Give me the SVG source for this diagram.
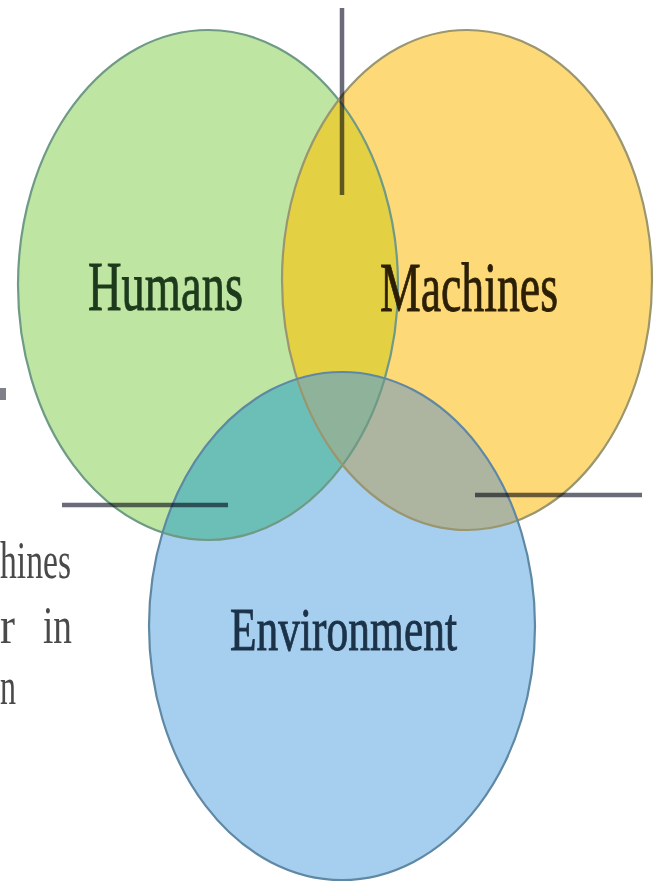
<svg xmlns="http://www.w3.org/2000/svg" width="656" height="884" viewBox="0 0 656 884">
<style>
.lbl{font-family:"Liberation Serif","Times New Roman",serif;stroke-width:0.9;}
.side{font-family:"Liberation Serif","Times New Roman",serif;font-size:52px;fill:#4a4a4a;}
.edge{fill:none;stroke-width:2.2;}
.conn{stroke:#6a6a78;stroke-width:4.5;mix-blend-mode:multiply;}
</style>
<defs>
<ellipse id="eH" cx="208" cy="285" rx="190" ry="255"/>
<ellipse id="eM" cx="467" cy="280" rx="185" ry="250"/>
<ellipse id="eE" cx="342" cy="626" rx="193" ry="254"/>
<clipPath id="cH"><use href="#eH"/></clipPath>
<clipPath id="cM"><use href="#eM"/></clipPath>
<clipPath id="cE"><use href="#eE"/></clipPath>
</defs>
<rect width="656" height="884" fill="#ffffff"/>

<g id="humans">
<use href="#eH" fill="#bee6a2"/>
</g>
<g id="machines">
<use href="#eM" fill="#fed977"/>
</g>
<g id="environment">
<use href="#eE" fill="#a6cfef"/>
</g>
<g id="overlaps">
<g clip-path="url(#cH)"><use href="#eM" fill="#e4d043"/></g>
<g clip-path="url(#cH)"><use href="#eE" fill="#6cbfb6"/></g>
<g clip-path="url(#cM)"><use href="#eE" fill="#adb5a0"/></g>
<g clip-path="url(#cH)"><g clip-path="url(#cM)"><use href="#eE" fill="#8fb39a"/></g></g>
</g>
<g id="outlines">
<use href="#eH" class="edge" stroke="#6f9a86"/>
<use href="#eM" class="edge" stroke="#9a9670"/>
<use href="#eE" class="edge" stroke="#5f88a4"/>
</g>

<g id="labels">
<text class="lbl" x="88" y="310" font-size="70" textLength="155" lengthAdjust="spacingAndGlyphs" fill="#1d3a1c" stroke="#1d3a1c">Humans</text>
<text class="lbl" x="380" y="311" font-size="70" textLength="178" lengthAdjust="spacingAndGlyphs" fill="#2b1f05" stroke="#2b1f05">Machines</text>
<text class="lbl" x="230" y="650" font-size="62" textLength="227" lengthAdjust="spacingAndGlyphs" fill="#1b3248" stroke="#1b3248">Environment</text>
</g>

<g id="connectors">
<line class="conn" x1="342" y1="8" x2="342" y2="195"/>
<line class="conn" x1="62" y1="505" x2="228" y2="505"/>
<line class="conn" x1="475" y1="495" x2="642" y2="495"/>
</g>

<g id="side-text">
<rect x="0" y="388" width="6" height="12" fill="#808088"/>
<text class="side" x="0" y="578" textLength="71" lengthAdjust="spacingAndGlyphs">hines</text>
<text class="side" x="0" y="643" textLength="15" lengthAdjust="spacingAndGlyphs">r</text>
<text class="side" x="43" y="643" textLength="29" lengthAdjust="spacingAndGlyphs">in</text>
<text class="side" x="0" y="704" textLength="16" lengthAdjust="spacingAndGlyphs">n</text>
</g>
</svg>
